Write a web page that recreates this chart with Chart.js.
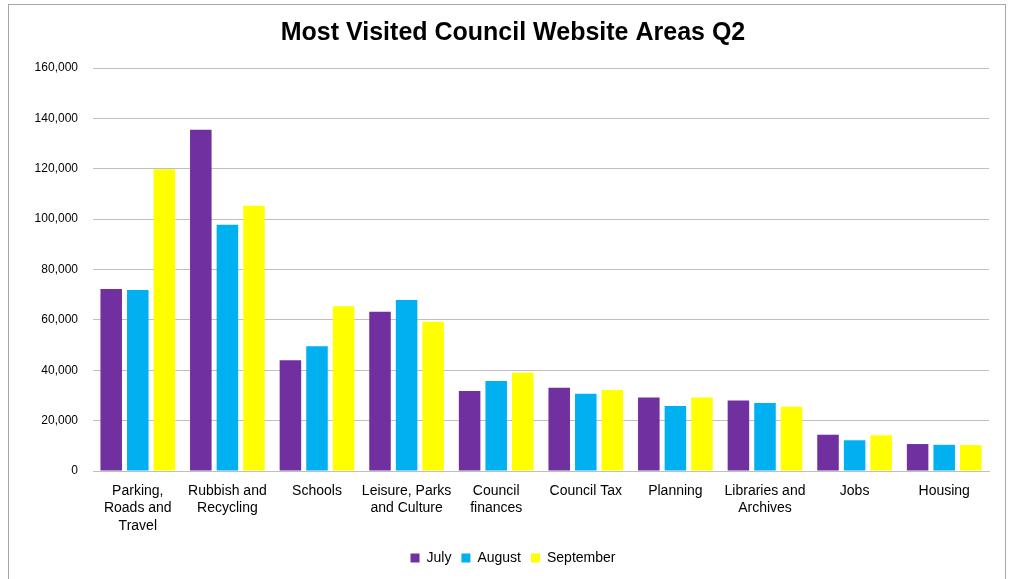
<!DOCTYPE html>
<html>
<head>
<meta charset="utf-8">
<script src="https://cdn.jsdelivr.net/npm/chart.js@4"></script>
<style>
  body { margin: 0; background: #fff; }
  #frame {
    position: absolute; left: 8px; top: 4px; width: 998px; height: 600px;
    border: 1px solid #a6a6a6; box-sizing: border-box;
  }
  #wrap { position: absolute; left: 0; top: 0; width: 1016px; height: 579px; }
</style>
</head>
<body>
<div id="frame"></div>
<div id="wrap"><canvas id="chart"></canvas></div>
<script>
const categories = [
    ["Parking,", "Roads and", "Travel"],
    ["Rubbish and", "Recycling"],
    "Schools",
    ["Leisure, Parks", "and Culture"],
    ["Council", "finances"],
    "Council Tax",
    "Planning",
    ["Libraries and", "Archives"],
    "Jobs",
    "Housing",
];
const july = [72300, 135500, 44000, 63200, 31800, 33100, 29200, 28000, 14400, 10700];
const august = [71900, 97800, 49500, 67900, 35700, 30700, 25800, 27000, 12200, 10400];
const september = [119800, 105300, 65400, 59300, 39000, 32200, 29200, 25500, 14200, 10300];

const purple = "#7030A0";
const cyan = "#00B0F0";
const yellow = "#FFFF00";
const grid = "#BFBFBF";
const font = "'Liberation Sans', Arial, sans-serif";

// y labels stick out left of the narrow y scale box, so widen the clip area
const unclipY = {
    id: "unclipY",
    afterLayout(chart) {
        chart.scales.y.left = 0;
    },
};

const ctx = document.getElementById("chart").getContext("2d");
const chart = new Chart(ctx, {
    type: "bar",
    data: {
        labels: categories,
        datasets: [
            { label: "July", data: july, backgroundColor: purple },
            { label: "August", data: august, backgroundColor: cyan },
            { label: "September", data: september, backgroundColor: yellow },
        ],
    },
    options: {
        responsive: true,
        maintainAspectRatio: false,
        animation: false,
        layout: {
            padding: { left: 37, right: 27, top: 0, bottom: 4 },
        },
        datasets: {
            bar: { categoryPercentage: 0.89, barPercentage: 0.81 },
        },
        plugins: {
            title: {
                display: true,
                text: "Most Visited Council Website Areas Q2",
                color: "#000",
                font: { family: font, size: 25, weight: "bold" },
                padding: { top: 18, bottom: 20 },
            },
            legend: {
                position: "bottom",
                labels: {
                    color: "#000",
                    font: { family: font, size: 14 },
                    boxWidth: 9,
                    boxHeight: 9,
                    padding: 10,
                },
            },
            tooltip: { enabled: false },
        },
        scales: {
            x: {
                grid: { display: false, drawTicks: false },
                border: { color: grid, width: 1 },
                ticks: {
                    color: "#000",
                    font: { family: font, size: 14, lineHeight: 1.25 },
                    maxRotation: 0,
                    autoSkip: false,
                    padding: 11,
                },
                afterFit: (scale) => { scale.height = 70; },
            },
            y: {
                min: 0,
                max: 160000,
                grid: { color: grid, drawTicks: false },
                border: { display: false },
                ticks: {
                    stepSize: 20000,
                    color: "#000",
                    font: { family: font, size: 12 },
                    padding: 15,
                    callback: (v) => v.toLocaleString("en-GB"),
                },
                afterFit: (scale) => { scale.width = 56; },
            },
        },
    },
    plugins: [unclipY],
});
</script>
</body>
</html>
